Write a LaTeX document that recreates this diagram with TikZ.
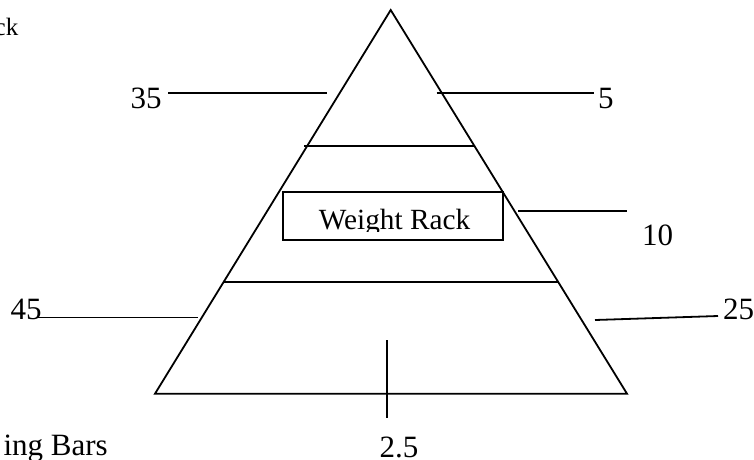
\documentclass[tikz,border=0pt]{standalone}
\usepackage{fontspec}
\setmainfont{Liberation Serif}
\tikzset{
  ln/.style={line width=1.8pt, line cap=butt},
  lbl/.style={inner sep=0pt, font=\fontsize{31}{31}\selectfont},
  small/.style={inner sep=0pt, font=\fontsize{25}{25}\selectfont},
  rack/.style={draw, line width=1.8pt, inner sep=0pt, minimum width=220.6pt, minimum height=48.3pt},
}
\begin{document}
\begin{tikzpicture}[x=1pt,y=-1pt]
\useasboundingbox (0,0) rectangle (754,459);
% pyramid
\coordinate (apex) at (390.7,10);
\coordinate (bl) at (155,393.7);
\coordinate (br) at (627,393.7);
\draw[ln, line join=miter] (apex) -- (bl) -- (br) -- cycle;
% tier lines
\coordinate (t1a) at (304,146);
\coordinate (t1b) at (474,146);
\draw[ln] (t1a) -- (t1b);
\coordinate (t2a) at (224,282);
\coordinate (t2b) at (559,282);
\draw[ln] (t2a) -- (t2b);
% weight rack box
\node[rack] (box) at (393,215.85) {};
\begin{scope}
\clip (283,192) rectangle (503,231);
\node[inner sep=0pt, anchor=base, font=\fontsize{29.3}{29.3}\selectfont] (wr) at (394.5,229.5) {Weight Rack};
\end{scope}
% labels
\node[lbl, anchor=base west] (l35) at (130.5,108.7) {35};
\node[lbl, anchor=base west] (l5) at (598,108.7) {5};
\node[lbl, anchor=base west] (l10) at (642,245) {10};
\node[lbl, anchor=base west] (l45) at (10.5,319) {45};
\node[lbl, anchor=base west] (l25) at (723,319) {25};
\node[lbl, anchor=base west] (l25b) at (379.5,457.5) {2.5};
\node[lbl, anchor=base east] (bars) at (108,455) {ing Bars};
\node[small, anchor=base east] (ck) at (18.5,35) {ck};
% leader lines
\coordinate (a35) at (168,93.3);
\coordinate (b35) at (327,93.3);
\draw[ln] (a35) -- (b35);
\coordinate (a5) at (436.5,93.3);
\coordinate (b5) at (594,93.3);
\draw[ln] (a5) -- (b5);
\coordinate (a10) at (518.3,211);
\coordinate (b10) at (626.7,211);
\draw[ln] (a10) -- (b10);
\coordinate (a45) at (38,317.5);
\coordinate (b45) at (198,317.5);
\draw[ln] (a45) -- (b45);
\coordinate (a25) at (595,320);
\coordinate (b25) at (718,316);
\draw[ln] (a25) -- (b25);
\coordinate (av) at (386.7,340);
\coordinate (bv) at (386.7,418.3);
\draw[ln] (av) -- (bv);
\end{tikzpicture}
\end{document}
